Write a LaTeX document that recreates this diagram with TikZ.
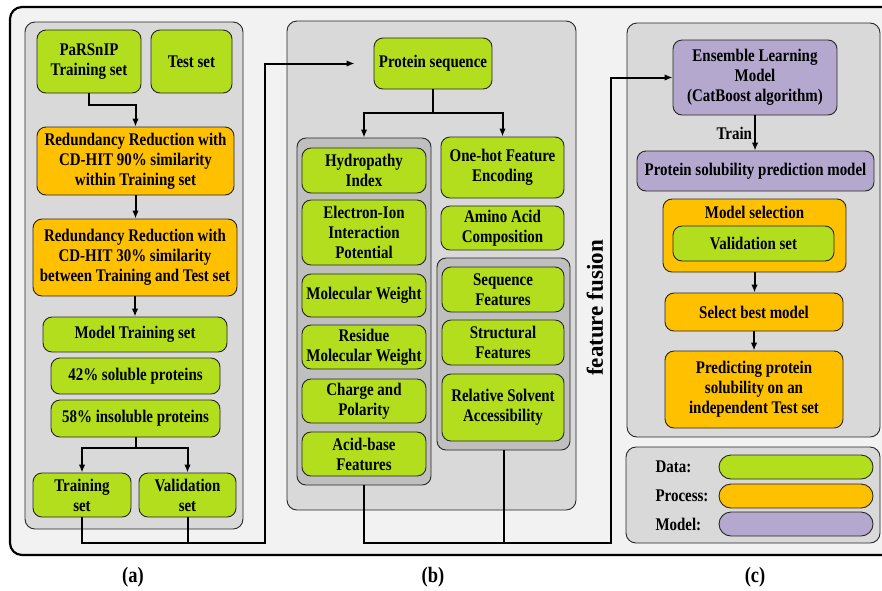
\documentclass[tikz,border=0pt]{standalone}
\usepackage{fontspec}
\setmainfont{Liberation Serif}[FakeStretch=0.84]
\newfontfamily\fusionfont{Liberation Serif}
\usetikzlibrary{arrows.meta, positioning}
\definecolor{dgreen}{RGB}{178,222,30}
\definecolor{porange}{RGB}{255,192,0}
\definecolor{mlilac}{RGB}{180,168,206}
\definecolor{outerbg}{RGB}{242,242,242}
\definecolor{panelbg}{RGB}{217,217,217}
\definecolor{groupbg}{RGB}{191,191,191}

\begin{document}
\begin{tikzpicture}[x=1pt, y=-1pt, font=\fontsize{17.8}{20}\selectfont\bfseries,
  box/.style={draw=black!85, line width=0.9pt, rounded corners=9pt, align=center, inner sep=1pt},
  data/.style={box, fill=dgreen}, proc/.style={box, fill=porange}, mdl/.style={box, fill=mlilac},
  sz/.style 2 args={minimum width=#1, minimum height=#2},
  panel/.style={draw=black!85, line width=0.9pt, rounded corners=10pt, fill=panelbg},
  group/.style={draw=black!85, line width=0.9pt, rounded corners=9pt, fill=groupbg, inner sep=0pt},
  conn/.style={line width=2pt},
  arr/.style={conn, -{Latex[length=8pt, width=6.5pt]}}]
\useasboundingbox (0,0) rectangle (882,590);
\fill[white] (0,0) rectangle (882,590);
\draw[line width=2.2pt, rounded corners=12pt, fill=outerbg] (10,7) rectangle (905,555);
\draw[panel] (25,22) rectangle (243,529);
\draw[panel] (287,21) rectangle (576,510);
\draw[panel] (627,23) rectangle (880,437);
\draw[panel] (626,447) rectangle (880,543);

\node[data, sz={104}{63}] (parsnip) at (89,61.5) {PaRSnIP\\Training set};
\node[data, sz={81}{63}] (testset) at (191.5,61.5) {Test set};
\node[proc, sz={197}{68}] (red1) at (135.5,161) {Redundancy Reduction with\\CD-HIT 90\% similarity\\within Training set};
\node[proc, sz={204}{77}] (red2) at (135,257.5) {Redundancy Reduction with\\CD-HIT 30\% similarity\\between Training and Test set};
\node[data, sz={184}{35}] (mtrain) at (135,334.5) {Model Training set};
\node[data, sz={169}{36}] (sol) at (135.5,376) {42\% soluble proteins};
\node[data, sz={169}{37}] (insol) at (135.5,418.5) {58\% insoluble proteins};
\node[data, sz={98}{44}] (trainset) at (82,495) {Training\\set};
\node[data, sz={97}{44}] (valset) at (187.5,495) {Validation\\set};
\draw[arr] (parsnip.south) -- ++(0,12) -| (red1.north);
\draw[arr] (red1.south) -- (red1.south |- red2.north);
\draw[arr] (red2.south) -- (red2.south |- mtrain.north);
\draw[arr] (insol.south) -- ++(0,11) -| (trainset.north);
\draw[arr] (insol.south) -- ++(0,11) -| (valset.north);

\node[data, sz={118}{51}] (protseq) at (433,63.5) {Protein sequence};
\node[group, sz={134}{347}] (physchem) at (364,311.5) {};
\node[group, sz={133}{192}] (struct) at (503.5,354) {};
\foreach \nm/\yy/\hh/\txt in {hydro/170.5/45/{Hydropathy\\Index}, elec/232.5/65/{Electron-Ion\\Interaction\\Potential}, molw/295.5/43/{Molecular Weight}, resmw/347/44/{Residue\\Molecular Weight}, charge/401/44/{Charge and\\Polarity}, acid/454/44/{Acid-base\\Features}}
  \node[data, sz={124}{\hh}] (\nm) at (364,\yy) {\txt};
\node[data, sz={123}{61}] (onehot) at (502.5,167.5) {One-hot Feature\\Encoding};
\node[data, sz={123}{44}] (aac) at (502.5,228) {Amino Acid\\Composition};
\node[data, sz={122}{45}] (seqf) at (503,289.5) {Sequence\\Features};
\node[data, sz={122}{45}] (strf) at (503,342.5) {Structural\\Features};
\node[data, sz={122}{67}] (rsa) at (503,407.5) {Relative Solvent\\Accessibility};
\draw[arr] (protseq.south) -- ++(0,24) -| (physchem.north);
\draw[arr] (protseq.south) -- ++(0,24) -| (onehot.north);

\node[mdl, sz={164}{75}] (ensemble) at (755,77.5) {Ensemble Learning\\Model\\(CatBoost algorithm)};
\node[mdl, sz={237}{40}] (psp) at (755.5,171) {Protein solubility prediction model};
\draw[arr] (ensemble.south) -- (ensemble.south |- psp.north) node[midway, left, inner sep=2pt] {Train};
\node[proc, sz={183}{73}] (modelsel) at (754.5,235.5) {};
\node (selttl) at (754.5,212) {Model selection};
\node[data, sz={161}{35}] (valset2) at (753.5,243.5) {Validation set};
\node[proc, sz={178}{38}] (best) at (754,312) {Select best model};
\node[proc, sz={178}{77}] (pred) at (754,389.5) {Predicting protein\\solubility on an\\independent Test set};
\draw[arr] (modelsel.south) -- (modelsel.south |- best.north);
\draw[arr] (best.south) -- (best.south |- pred.north);
\foreach \nm/\lab/\col/\yy in {ldata/Data:/dgreen/467, lproc/Process:/porange/496, lmodel/Model:/mlilac/524}{
  \node[anchor=west] (\nm t) at (652,\yy) {\lab};
  \node[box, fill=\col, sz={154}{24}, rounded corners=12pt] (\nm) at (796,\yy) {};}

\coordinate (abus) at (265,543);
\draw[arr, shorten >=19pt] (trainset.south) |- (abus) |- (protseq.west);
\draw[conn] (valset.south) -- (valset.south |- abus);
\coordinate (fbus) at (611,543);
\draw[arr] (physchem.south) |- (fbus) |- (ensemble.west);
\draw[conn] (struct.south) -- (struct.south |- fbus);
\node[rotate=90, font=\fusionfont\fontsize{23}{26}\selectfont\bfseries] (fusion) at (595,308) {feature fusion};

\foreach \nm/\xx/\lab in {capa/133/(a), capb/433/(b), capc/755/(c)}
  \node[font=\fontsize{22}{24}\selectfont\bfseries] (\nm) at (\xx,577) {\lab};
\end{tikzpicture}
\end{document}
